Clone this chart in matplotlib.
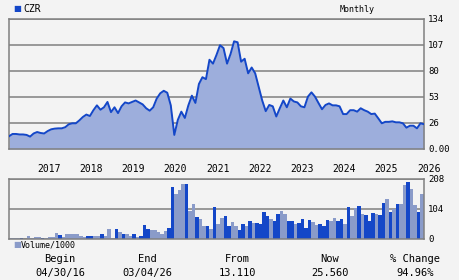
import pandas as pd
import matplotlib

matplotlib.use("Agg")
import matplotlib.pyplot as plt

# Precio mensual de CZR (cierre aproximado), desde 04/30/16 hasta 03/04/26
precios = [
    13.1, 15.5, 15.5, 15.0, 15.0, 14.5, 12.8, 16.0, 17.5, 16.5,
    16.0, 18.5, 20.3, 21.0, 21.3, 21.3, 22.5, 25.5, 26.5, 26.5,
    29.5, 33.0, 35.5, 34.0, 40.0, 45.0, 40.5, 43.0, 48.5, 38.0,
    43.0, 37.0, 44.0, 48.0, 47.0, 48.5, 50.0, 48.0, 46.0, 42.0,
    39.5, 43.0, 52.0, 57.4, 60.0, 58.0, 45.0, 14.5, 30.0, 38.5,
    32.0, 45.0, 55.0, 47.5, 67.0, 74.0, 72.0, 92.0, 88.0, 97.0,
    107.0, 104.0, 88.0, 98.0, 111.0, 110.0, 90.0, 93.0, 78.0, 84.0,
    78.0, 64.0, 50.0, 39.0, 45.4, 44.0, 33.5, 42.0, 50.0, 43.0,
    52.0, 49.0, 48.0, 44.0, 43.0, 54.0, 58.4, 54.0, 47.4, 41.0,
    45.4, 47.0, 45.0, 45.0, 44.0, 36.0, 36.0, 40.0, 40.0, 38.5,
    42.0, 40.0, 38.5, 36.0, 36.5, 31.6, 26.5, 28.0, 28.0, 28.5,
    27.5, 27.5, 26.5, 22.0, 24.0, 24.0, 21.3, 26.5, 25.56,
]

# Volumen mensual (miles) y si la barra es oscura (1) o clara (0)
volumen = [
    2, 2, 2, 2, 1, 10, 2, 6, 6, 3,
    2, 8, 8, 22, 13, 8, 17, 17, 17, 17,
    12, 8, 12, 12, 12, 12, 17, 12, 35, 5,
    35, 26, 17, 17, 12, 17, 8, 12, 48, 35,
    31, 31, 23, 19, 28, 39, 180, 156, 170, 191,
    191, 97, 121, 76, 69, 45, 45, 35, 111, 52,
    73, 80, 45, 59, 45, 31, 52, 45, 62, 55,
    55, 52, 94, 80, 69, 62, 87, 97, 87, 62,
    62, 52, 55, 69, 38, 66, 59, 48, 52, 45,
    66, 62, 72, 62, 69, 52, 111, 80, 107, 114,
    87, 83, 62, 90, 87, 83, 125, 139, 94, 104,
    121, 121, 187, 198, 173, 118, 94, 156,
]
volumen_oscuro = [
    0, 0, 0, 1, 0, 0, 0, 0, 0, 1,
    0, 0, 0, 0, 1, 0, 0, 0, 0, 0,
    0, 0, 1, 1, 0, 0, 1, 0, 0, 0,
    1, 0, 1, 0, 0, 1, 0, 1, 1, 1,
    0, 0, 0, 0, 0, 1, 1, 0, 0, 0,
    1, 0, 0, 1, 0, 0, 1, 0, 1, 0,
    0, 1, 1, 0, 0, 1, 1, 0, 1, 0,
    1, 1, 1, 1, 0, 1, 1, 0, 0, 1,
    1, 0, 1, 1, 1, 1, 0, 0, 1, 1,
    1, 0, 0, 1, 1, 0, 1, 0, 0, 1,
    0, 1, 1, 1, 0, 1, 1, 0, 1, 0,
    1, 0, 0, 1, 0, 0, 1, 0,
]

anios = list(range(2017, 2027))
precio_ticks = [0, 26.8, 53.6, 80.4, 107.2, 134]
precio_etiquetas = ["0.00", "26", "53", "80", "107", "134"]
vol_ticks = [0, 104, 208]
vol_etiquetas = ["0", "104", "208"]

inicio = pd.Timestamp("2016-04-30")
fin = pd.Timestamp("2026-03-04")

AZUL = "#1447c8"
CLARO = "#8a9bc9"
RELLENO = "#9daedc"
GRIS = "#808080"
FONDO = "#f3f3f3"
FUENTE = "DejaVu Sans Mono"


def meses_desde_inicio(fecha):
    return (fecha - inicio).days / 30.4375


total_meses = meses_desde_inicio(fin)
x_precio = [i * total_meses / (len(precios) - 1) for i in range(len(precios))]
x_vol = [i * total_meses / len(volumen) for i in range(len(volumen))]
ancho_barra = total_meses / len(volumen)

fig = plt.figure(figsize=(4.6, 2.8), dpi=100, facecolor=FONDO)

ax_p = fig.add_axes([9 / 460, 1 - 149 / 280, 415 / 460, 130 / 280], facecolor=FONDO)
ax_v = fig.add_axes([9 / 460, 1 - 239 / 280, 415 / 460, 60 / 280], facecolor=FONDO)

# Panel de precio
ax_p.fill_between(x_precio, precios, 0, color=RELLENO, linewidth=0, zorder=2)
ax_p.plot(x_precio, precios, color=AZUL, linewidth=1.4, zorder=3)
ax_p.set_xlim(0, total_meses)
ax_p.set_ylim(0, 134)

# Panel de volumen
colores = [AZUL if o else CLARO for o in volumen_oscuro]
ax_v.bar(x_vol, volumen, width=ancho_barra, align="edge", color=colores, linewidth=0, zorder=2)
ax_v.set_xlim(0, total_meses)
ax_v.set_ylim(0, 208)

for ax, ticks, etiquetas in [(ax_p, precio_ticks, precio_etiquetas), (ax_v, vol_ticks, vol_etiquetas)]:
    for lado in ax.spines.values():
        lado.set_color(GRIS)
        lado.set_linewidth(1.1)
    ax.set_yticks(ticks)
    ax.set_yticklabels(etiquetas, fontsize=6.5, family=FUENTE)
    ax.yaxis.tick_right()
    ax.tick_params(axis="y", length=0, pad=3)
    ax.grid(axis="y", color=GRIS, linewidth=1.1, zorder=1)
    ax.set_axisbelow(True)

# Etiquetas de años
pos_anios = [meses_desde_inicio(pd.Timestamp(f"{a}-01-01")) for a in anios]
ax_p.set_xticks(pos_anios)
ax_p.set_xticklabels([str(a) for a in anios], fontsize=7, family=FUENTE, ha="left")
ax_p.tick_params(axis="x", length=0, pad=11)
ax_v.set_xticks([])

# Leyendas
fig.text(13 / 460, 1 - 9 / 280, "\u25a0", color=AZUL, fontsize=6, family="DejaVu Sans", va="center")
fig.text(23 / 460, 1 - 9 / 280, "CZR", fontsize=7, family=FUENTE, va="center")
fig.text(357 / 460, 1 - 9 / 280, "Monthly", fontsize=6, family=FUENTE, va="center", ha="center")
fig.text(13 / 460, 1 - 245 / 280, "\u25a0", color=CLARO, fontsize=6, family="DejaVu Sans", va="center")
fig.text(21 / 460, 1 - 245 / 280, "Volume/1000", fontsize=6, family=FUENTE, va="center")

# Resumen inferior
resumen = [
    (60, "Begin", "04/30/16"),
    (147, "End", "03/04/26"),
    (237, "From", "13.110"),
    (330, "Now", "25.560"),
    (415, "% Change", "94.96%"),
]
for x, titulo, valor in resumen:
    fig.text(x / 460, 1 - 259 / 280, titulo, fontsize=7.5, family=FUENTE, ha="center", va="center")
    fig.text(x / 460, 1 - 273 / 280, valor, fontsize=7.5, family=FUENTE, ha="center", va="center")

fig.savefig("out.png", dpi=100, facecolor=FONDO)
plt.close(fig)
